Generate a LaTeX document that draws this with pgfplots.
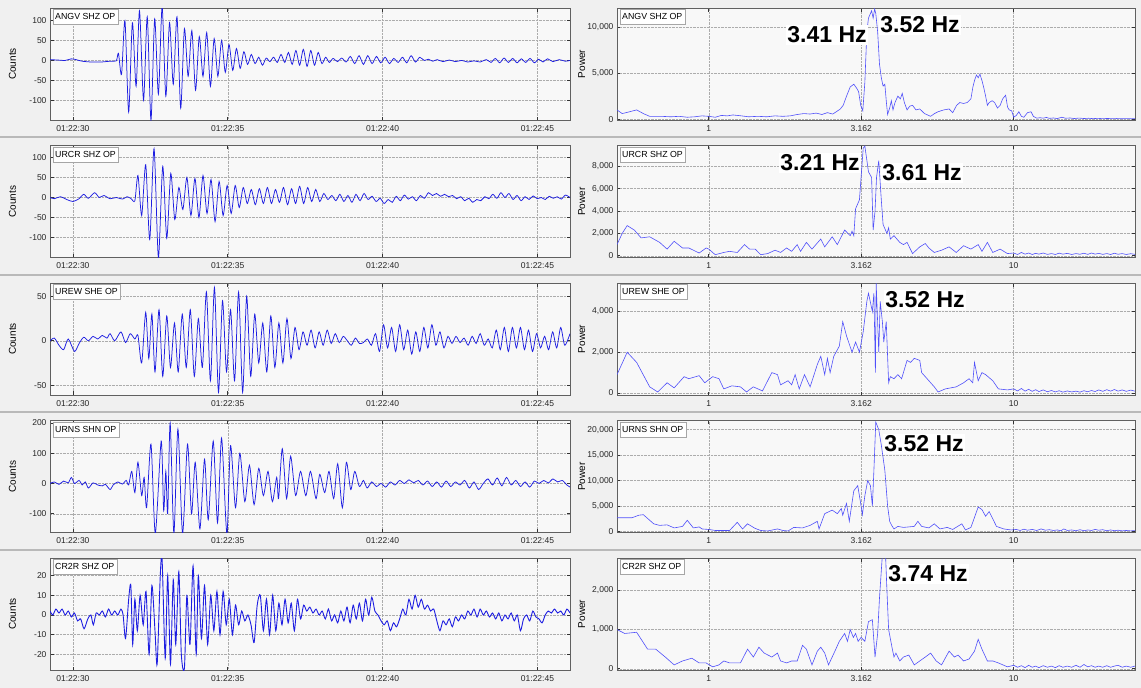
\documentclass[border=0pt]{standalone}
\usepackage{fontspec}
\setmainfont{Liberation Sans}
\usepackage{pgfplots}
\pgfplotsset{compat=1.18}
\definecolor{figbg}{RGB}{240,240,240}
\definecolor{plotbg}{RGB}{248,248,248}
\definecolor{wavec}{RGB}{30,30,225}
\definecolor{specc}{RGB}{80,80,250}
\pgfplotsset{
  panel/.style={scale only axis, height=112pt, anchor=north west,
    axis background/.style={fill=plotbg},
    axis line style={draw=gray!75!black, line width=0.5pt},
    grid=major, major grid style={densely dotted, draw=gray!65, line width=0.45pt},
    tick style={draw=black!80, line width=0.7pt}, major tick length=3.5pt,
    tick label style={font=\fontsize{8.5}{9}\selectfont, text=black!85},
    xticklabel style={yshift=-2pt},
    /pgf/number format/assume math mode=true,
    scaled y ticks=false,
    label style={font=\fontsize{8.5}{9}\selectfont},
  },
  wavepanel/.style={panel, width=520pt, xmin=29.26, xmax=46.05,
    xtick={30,35,40,45}, xticklabels={01:22:30,01:22:35,01:22:40,01:22:45},
    ylabel={Counts}, every axis y label/.style={at={(axis description cs:-0.072,0.5)}, rotate=90, anchor=center}},
  specpanel/.style={panel, width=518pt, xmin=0.5, xmax=25,
    xtick={1,3.162,10}, xticklabels={1,3.162,10},
    ylabel={Power}, every axis y label/.style={at={(axis description cs:-0.068,0.5)}, rotate=90, anchor=center}},
  wl/.style={color=wavec, line width=0.75pt, smooth, tension=0.45, mark=none},
  sl/.style={color=specc, line width=0.6pt, mark=none},
}
\tikzset{hz/.style={fill=white, inner sep=1.5pt, anchor=center, font=\fontsize{23}{23}\selectfont\bfseries},
  stn/.style={draw=gray!70, fill=white, anchor=north west, inner xsep=2.5pt, inner ysep=2pt, minimum height=15pt, font=\fontsize{8.8}{9}\selectfont, xshift=2.5pt, yshift=-1pt}}
\begin{document}
\begin{tikzpicture}
\fill[figbg] (0pt,0pt) rectangle (1141pt,-688pt);
\draw[gray!55, line width=2pt] (0pt,-137pt) -- (1141pt,-137pt);
\draw[gray!55, line width=2pt] (0pt,-274.5pt) -- (1141pt,-274.5pt);
\draw[gray!55, line width=2pt] (0pt,-412pt) -- (1141pt,-412pt);
\draw[gray!55, line width=2pt] (0pt,-549.5pt) -- (1141pt,-549.5pt);

% ---------- Row 1 ----------
\begin{axis}[wavepanel, at={(50pt,-8pt)}, ymin=-150, ymax=132, ytick={-100,-50,0,50,100}]
\addplot[wl] coordinates {(29.26,2)(29.5,1)(29.75,0)(29.95,4)(30.1,2)(30.3,-2)(30.6,-4)(30.9,-4)(31.2,-2)(31.4,-1)
(31.47,18)(31.57,-35)(31.68,100)(31.80,-130)(31.92,95)(32.04,-65)(32.15,125)(32.28,-100)(32.40,110)(32.52,-150)(32.64,105)(32.76,-85)(32.88,135)(33.00,-90)(33.12,95)(33.24,-60)(33.36,110)(33.48,-120)(33.60,80)(33.72,-40)(33.84,75)(33.96,-75)(34.08,60)(34.20,-40)(34.32,70)(34.44,-65)(34.56,55)(34.68,-40)(34.80,50)(34.92,-30)(35.04,40)(35.16,-25)(35.28,30)(35.40,-20)(35.52,22)(35.64,-10)(35.76,15)(35.88,-8)(36.00,8)(36.12,-12)(36.24,6)(36.36,-3)(36.48,8)(36.60,-5)(36.72,15)(36.84,-5)(36.96,20)(37.08,-10)(37.20,25)(37.32,-12)(37.44,28)(37.56,-15)(37.68,25)(37.80,-12)(37.92,20)(38.04,-8)(38.16,8)(38.28,-5)(38.40,5)(38.54,-3)(38.68,6)(38.82,-4)(38.96,10)(39.10,-8)(39.24,12)(39.38,-10)(39.52,12)(39.66,-8)(39.80,10)(39.94,-6)(40.08,8)(40.22,-8)(40.36,5)(40.50,-5)(40.64,8)(40.78,-6)(40.92,12)(41.06,-4)(41.20,8)(41.34,0)(41.48,3)(41.62,-2)(41.76,2)(41.95,-3)(42.15,1)(42.35,-3)(42.55,0)(42.75,-4)(42.95,-1)(43.15,-4)(43.35,2)(43.50,-5)(43.64,5)(43.78,-6)(43.92,6)(44.06,-5)(44.20,5)(44.34,-6)(44.48,4)(44.62,-5)(44.76,5)(44.90,-6)(45.04,3)(45.18,-4)(45.32,4)(45.50,-3)(45.70,2)(45.90,-2)(46.05,0)};
\node[stn] at (rel axis cs:0,1) {ANGV SHZ OP};
\end{axis}
\begin{semilogxaxis}[specpanel, at={(617pt,-8pt)}, ymin=-100, ymax=12100, ytick={0,5000,10000}]
\addplot[sl] coordinates {(0.50,1000)(0.52,600)(0.55,800)(0.58,1000)(0.61,600)(0.64,300)(0.70,300)(0.75,250)(0.80,300)(0.85,200)(0.90,250)(0.95,350)(1.00,300)(1.05,200)(1.10,400)(1.15,350)(1.20,450)(1.28,350)(1.35,250)(1.45,300)(1.55,250)(1.65,350)(1.75,300)(1.85,350)(1.95,500)(2.05,600)(2.15,550)(2.25,650)(2.35,500)(2.45,700)(2.55,550)(2.62,800)(2.70,1100)(2.76,1500)(2.83,2500)(2.91,3500)(2.99,3800)(3.05,3400)(3.10,3000)(3.15,1500)(3.20,900)(3.25,4000)(3.30,9500)(3.34,11000)(3.39,11500)(3.42,11800)(3.46,11000)(3.50,12000)(3.53,11500)(3.58,9500)(3.63,6000)(3.68,4500)(3.73,3600)(3.78,3800)(3.82,2000)(3.86,500)(3.92,1200)(3.97,2000)(4.02,1000)(4.08,1800)(4.17,2500)(4.25,2200)(4.31,2800)(4.38,1800)(4.47,1000)(4.56,1400)(4.66,1500)(4.78,1000)(4.92,1100)(5.10,600)(5.34,300)(5.50,600)(5.65,800)(5.90,1000)(6.14,1100)(6.31,700)(6.50,1500)(6.66,1800)(6.85,1700)(7.04,1800)(7.24,2200)(7.35,3500)(7.44,4200)(7.55,4800)(7.65,4500)(7.75,4900)(7.87,4200)(7.97,3500)(8.09,2500)(8.20,1500)(8.31,1800)(8.50,2000)(8.66,1800)(8.85,1200)(9.03,1500)(9.20,2200)(9.41,2600)(9.55,1300)(9.67,1000)(9.85,900)(10.0,200)(10.2,400)(10.4,800)(10.6,300)(10.8,200)(11.1,700)(11.4,800)(11.6,300)(11.9,100)(12.2,150)(12.5,100)(12.8,180)(13.1,80)(13.5,120)(13.9,60)(14.4,200)(14.8,90)(15.3,120)(15.8,60)(16.4,110)(17.0,60)(17.6,90)(18.2,50)(18.9,80)(19.6,40)(20.3,70)(21.0,40)(21.8,60)(22.6,30)(23.5,50)(24.3,30)(25.0,40)};
\node[stn] at (rel axis cs:0,1) {ANGV SHZ OP};
\end{semilogxaxis}

% ---------- Row 2 ----------
\begin{axis}[wavepanel, at={(50pt,-145.5pt)}, ymin=-150, ymax=130, ytick={-100,-50,0,50,100}]
\addplot[wl] coordinates {(29.26,0)(29.4,-3)(29.6,2)(29.8,-5)(30.0,-10)(30.2,-3)(30.35,8)(30.5,-2)(30.7,12)(30.85,0)(31.0,5)(31.2,-3)(31.4,0)(31.6,-4)(31.75,2)(31.88,-3)(32.00,-8)(32.10,55)(32.22,-45)(32.35,82)(32.48,-105)(32.62,122)(32.76,-150)(32.90,78)(33.03,-102)(33.16,60)(33.29,-55)(33.42,25)(33.55,-30)(33.68,50)(33.81,-45)(33.94,48)(34.07,-50)(34.20,55)(34.33,-40)(34.46,45)(34.59,-60)(34.72,40)(34.85,-45)(34.98,30)(35.11,-40)(35.24,30)(35.37,-25)(35.50,25)(35.63,-15)(35.76,20)(35.89,-18)(36.02,22)(36.15,-15)(36.28,25)(36.41,-15)(36.54,20)(36.67,-12)(36.80,25)(36.93,-18)(37.06,22)(37.19,-15)(37.32,28)(37.45,-15)(37.58,25)(37.71,-10)(37.84,20)(37.97,-10)(38.10,10)(38.23,-5)(38.36,5)(38.49,-8)(38.62,8)(38.75,-10)(38.88,5)(39.01,-12)(39.14,8)(39.27,-8)(39.40,10)(39.53,-5)(39.66,3)(39.79,-10)(39.92,-2)(40.05,-15)(40.18,-5)(40.31,-12)(40.44,3)(40.57,-8)(40.70,6)(40.83,-4)(40.96,2)(41.09,-8)(41.22,5)(41.35,-2)(41.48,12)(41.61,5)(41.74,10)(41.87,3)(42.00,8)(42.13,2)(42.26,5)(42.39,-3)(42.52,2)(42.65,-8)(42.78,-2)(42.91,-12)(43.04,-5)(43.17,-8)(43.30,2)(43.43,-3)(43.56,8)(43.69,-2)(43.82,12)(43.95,0)(44.08,10)(44.21,-5)(44.34,5)(44.47,-8)(44.60,2)(44.73,-5)(44.86,4)(44.99,-3)(45.12,0)(45.25,-5)(45.38,3)(45.51,-2)(45.64,2)(45.77,-4)(45.90,6)(46.05,0)};
\node[stn] at (rel axis cs:0,1) {URCR SHZ OP};
\end{axis}
\begin{semilogxaxis}[specpanel, at={(617pt,-145.5pt)}, ymin=-150, ymax=9850, ytick={0,2000,4000,6000,8000}]
\addplot[sl] coordinates {(0.50,1000)(0.52,2000)(0.54,2700)(0.57,2300)(0.60,1600)(0.64,1700)(0.69,1200)(0.73,600)(0.77,1300)(0.82,700)(0.86,700)(0.93,250)(0.98,700)(1.00,600)(1.05,100)(1.12,300)(1.17,400)(1.24,300)(1.31,1000)(1.36,600)(1.42,600)(1.48,100)(1.56,200)(1.65,500)(1.72,300)(1.80,700)(1.87,400)(1.95,1000)(2.00,400)(2.09,1200)(2.18,600)(2.33,1500)(2.40,800)(2.54,1700)(2.64,1000)(2.79,2300)(2.91,1800)(2.95,2200)(2.99,1800)(3.03,4200)(3.12,5000)(3.21,9600)(3.25,9800)(3.34,7500)(3.42,7000)(3.46,2300)(3.51,4000)(3.55,7000)(3.61,8500)(3.68,5000)(3.73,2800)(3.84,2000)(3.89,2500)(3.94,1500)(4.05,1800)(4.23,1200)(4.35,1000)(4.47,1200)(4.66,200)(4.92,800)(5.13,1100)(5.27,700)(5.49,300)(5.80,500)(6.14,800)(6.48,300)(6.85,900)(7.24,600)(7.65,1000)(7.87,400)(8.20,1200)(8.54,300)(9.03,600)(9.54,200)(10.0,250)(10.3,120)(10.6,300)(10.9,150)(11.2,250)(11.5,120)(11.8,220)(12.1,150)(12.5,250)(12.9,130)(13.3,200)(13.7,120)(14.1,240)(14.5,150)(15.0,220)(15.5,120)(16.0,200)(16.5,140)(17.0,230)(17.5,130)(18.0,250)(18.5,150)(19.0,220)(19.6,130)(20.2,200)(20.8,120)(21.4,230)(22.0,140)(22.7,200)(23.4,120)(24.2,190)(25.0,130)};
\node[stn] at (rel axis cs:0,1) {URCR SHZ OP};
\end{semilogxaxis}

% ---------- Row 3 ----------
\begin{axis}[wavepanel, at={(50pt,-283pt)}, ymin=-61, ymax=65, ytick={-50,0,50}]
\addplot[wl] coordinates {(29.26,0)(29.40,3)(29.55,-5)(29.70,-10)(29.85,2)(30.05,-12)(30.20,-3)(30.35,4)(30.50,0)(30.65,5)(30.80,2)(30.95,6)(31.10,3)(31.20,8)(31.35,0)(31.55,10)(31.70,-2)(31.85,8)(32.00,2)(32.10,6)(32.22,-25)(32.35,32)(32.45,-20)(32.55,30)(32.65,-35)(32.78,35)(32.90,-40)(33.03,28)(33.15,-30)(33.28,20)(33.40,-35)(33.53,30)(33.66,-30)(33.79,35)(33.92,-40)(34.05,25)(34.18,-30)(34.31,55)(34.44,-45)(34.57,60)(34.70,-58)(34.83,45)(34.96,-35)(35.09,35)(35.22,-45)(35.35,55)(35.48,-58)(35.61,50)(35.74,-40)(35.87,30)(36.00,-25)(36.13,20)(36.26,-35)(36.39,28)(36.52,-30)(36.65,20)(36.78,-25)(36.91,25)(37.04,-20)(37.17,15)(37.30,-10)(37.43,10)(37.56,-5)(37.69,12)(37.82,-8)(37.95,10)(38.08,-5)(38.21,12)(38.34,-3)(38.47,8)(38.60,-2)(38.73,5)(38.86,0)(38.99,-5)(39.12,3)(39.25,-3)(39.38,-2)(39.51,2)(39.64,-5)(39.77,8)(39.90,-12)(40.03,18)(40.16,-8)(40.29,15)(40.42,-12)(40.55,18)(40.68,-10)(40.81,12)(40.94,-15)(41.07,10)(41.20,-12)(41.33,15)(41.46,-8)(41.59,18)(41.72,-5)(41.85,10)(41.98,-8)(42.11,5)(42.24,-3)(42.37,5)(42.50,-2)(42.63,3)(42.76,-5)(42.89,5)(43.02,-3)(43.15,8)(43.28,-5)(43.41,2)(43.54,-8)(43.67,12)(43.80,-10)(43.93,15)(44.06,-12)(44.19,15)(44.32,-8)(44.45,15)(44.58,-10)(44.71,12)(44.84,-12)(44.97,8)(45.10,-8)(45.23,5)(45.36,-10)(45.49,10)(45.62,-8)(45.75,15)(45.88,-5)(46.05,8)};
\node[stn] at (rel axis cs:0,1) {UREW SHE OP};
\end{axis}
\begin{semilogxaxis}[specpanel, at={(617pt,-283pt)}, ymin=-100, ymax=5400, ytick={0,2000,4000}]
\addplot[sl] coordinates {(0.50,900)(0.54,2000)(0.58,1500)(0.64,300)(0.68,50)(0.73,500)(0.77,250)(0.83,800)(0.86,700)(0.93,850)(0.97,500)(1.03,800)(1.08,700)(1.12,200)(1.19,350)(1.27,300)(1.33,50)(1.40,300)(1.50,100)(1.61,1000)(1.68,900)(1.72,400)(1.82,600)(1.87,400)(1.92,900)(1.98,200)(2.06,900)(2.15,300)(2.27,1400)(2.33,1800)(2.40,900)(2.45,1700)(2.50,1000)(2.57,1800)(2.68,2300)(2.75,3500)(2.83,2800)(2.95,2000)(3.03,2500)(3.12,2000)(3.21,3000)(3.30,4500)(3.34,4900)(3.44,4000)(3.48,4900)(3.52,1000)(3.54,5400)(3.61,2000)(3.65,4500)(3.71,3500)(3.75,2500)(3.82,3500)(3.89,500)(3.94,800)(4.05,700)(4.17,900)(4.29,700)(4.47,1600)(4.59,1500)(4.72,1700)(4.92,1600)(4.99,1000)(5.20,700)(5.49,300)(5.65,50)(5.97,200)(6.48,300)(6.85,500)(7.14,700)(7.34,500)(7.44,1500)(7.65,600)(7.87,1000)(8.09,900)(8.54,600)(8.91,200)(9.54,150)(10.0,200)(10.3,100)(10.6,220)(10.9,90)(11.2,180)(11.5,80)(11.8,160)(12.1,70)(12.5,150)(12.9,60)(13.3,120)(13.7,50)(14.1,110)(14.5,40)(15.0,100)(15.5,50)(16.0,90)(16.5,40)(17.0,110)(17.5,60)(18.0,120)(18.5,70)(19.0,150)(19.6,80)(20.2,160)(20.8,90)(21.4,170)(22.0,90)(22.7,150)(23.4,80)(24.2,140)(25.0,90)};
\node[stn] at (rel axis cs:0,1) {UREW SHE OP};
\end{semilogxaxis}

% ---------- Row 4 ----------
\begin{axis}[wavepanel, at={(50pt,-420.5pt)}, ymin=-162, ymax=208, ytick={-100,0,100,200}]
\addplot[wl] coordinates {(29.26,0)(29.40,5)(29.55,-3)(29.70,8)(29.85,2)(29.95,20)(30.05,0)(30.20,10)(30.30,-5)(30.40,5)(30.50,-15)(30.65,2)(30.80,-5)(30.95,-8)(31.05,-3)(31.20,-20)(31.30,-5)(31.45,5)(31.60,-2)(31.72,10)(31.80,-5)(31.90,40)(32.00,-30)(32.10,70)(32.22,-40)(32.30,20)(32.38,-80)(32.52,130)(32.66,-165)(32.85,140)(32.93,-90)(33.00,40)(33.06,-100)(33.14,200)(33.26,-165)(33.39,180)(33.54,-165)(33.70,130)(33.83,-100)(33.95,70)(34.10,-150)(34.25,80)(34.37,-120)(34.53,140)(34.67,-130)(34.80,150)(34.97,-165)(35.09,125)(35.25,-80)(35.39,100)(35.55,-60)(35.70,60)(35.85,-70)(36.00,50)(36.15,-40)(36.30,40)(36.44,-60)(36.58,20)(36.64,-50)(36.76,115)(36.90,-50)(37.03,90)(37.19,-40)(37.35,40)(37.52,-40)(37.67,40)(37.85,-50)(37.97,30)(38.13,-30)(38.27,40)(38.42,-50)(38.55,65)(38.70,-80)(38.83,70)(38.97,-20)(39.10,40)(39.25,-10)(39.38,10)(39.50,-15)(39.65,5)(39.80,-10)(39.95,0)(40.10,-12)(40.25,5)(40.40,-5)(40.55,10)(40.70,0)(40.85,12)(41.00,2)(41.15,10)(41.30,-5)(41.45,8)(41.60,-10)(41.75,5)(41.90,-12)(42.05,8)(42.20,-10)(42.35,5)(42.50,-5)(42.65,10)(42.80,-15)(42.95,5)(43.10,-20)(43.25,0)(43.40,15)(43.55,-5)(43.70,18)(43.85,-8)(44.00,20)(44.15,-5)(44.30,10)(44.45,-10)(44.60,5)(44.75,-12)(44.90,8)(45.05,0)(45.20,10)(45.35,2)(45.50,15)(45.65,5)(45.80,10)(45.95,-5)(46.05,-12)};
\node[stn] at (rel axis cs:0,1) {URNS SHN OP};
\end{axis}
\begin{semilogxaxis}[specpanel, at={(617pt,-420.5pt)}, ymin=-200, ymax=21800, ytick={0,5000,10000,15000,20000}]
\addplot[sl] coordinates {(0.50,2700)(0.56,2700)(0.59,3200)(0.61,3300)(0.66,1500)(0.69,1200)(0.73,1300)(0.77,700)(0.82,1000)(0.85,2200)(0.89,700)(0.93,900)(0.95,500)(1.00,400)(1.05,200)(1.11,200)(1.17,200)(1.24,1800)(1.29,500)(1.34,1500)(1.42,600)(1.48,200)(1.56,100)(1.68,500)(1.75,200)(1.82,100)(1.90,800)(2.03,700)(2.15,1200)(2.27,2000)(2.30,500)(2.40,3500)(2.54,4200)(2.64,3500)(2.72,4500)(2.75,3200)(2.83,5500)(2.89,2000)(2.99,8000)(3.08,9000)(3.14,6000)(3.19,3300)(3.25,7000)(3.32,10000)(3.39,9000)(3.44,5000)(3.48,12000)(3.53,21500)(3.61,20000)(3.68,17000)(3.78,12000)(3.86,5000)(3.92,2000)(3.98,1200)(4.05,500)(4.17,1000)(4.35,800)(4.53,900)(4.72,1000)(4.85,2000)(4.99,1000)(5.27,700)(5.49,1500)(5.73,500)(6.05,800)(6.31,400)(6.76,1500)(6.95,300)(7.24,800)(7.65,4800)(7.87,4300)(8.09,3000)(8.31,3900)(8.54,2500)(8.78,1000)(9.28,500)(9.81,300)(10.2,400)(10.5,200)(10.8,450)(11.1,250)(11.5,400)(11.9,200)(12.3,500)(12.7,250)(13.1,350)(13.5,200)(13.9,300)(14.3,150)(14.6,500)(15.0,200)(15.5,300)(16.0,150)(16.5,350)(17.0,150)(17.5,300)(18.0,200)(18.5,400)(19.0,250)(19.6,350)(20.2,150)(20.8,300)(21.4,150)(22.0,250)(22.7,120)(23.4,200)(24.2,120)(25.0,180)};
\node[stn] at (rel axis cs:0,1) {URNS SHN OP};
\end{semilogxaxis}

% ---------- Row 5 ----------
\begin{axis}[wavepanel, at={(50pt,-558pt)}, ymin=-28, ymax=29, ytick={-20,-10,0,10,20}]
\addplot[wl, line width=0.9pt] coordinates {(29.26,2)(29.35,0)(29.45,3)(29.55,1)(29.65,3)(29.75,0)(29.85,2)(29.95,-1)(30.05,1)(30.15,-3)(30.25,-2)(30.36,-7)(30.48,-2)(30.58,0)(30.66,-5)(30.75,1)(30.85,0)(30.95,2)(31.05,-1)(31.15,3)(31.25,0)(31.35,2)(31.45,0)(31.55,3)(31.62,0)(31.70,-12)(31.80,8)(31.87,15)(31.93,-15)(32.00,8)(32.08,-8)(32.17,10)(32.27,-5)(32.36,12)(32.46,-20)(32.55,15)(32.65,-8)(32.72,-25)(32.82,20)(32.88,28)(32.98,-22)(33.06,20)(33.15,-25)(33.24,18)(33.32,-15)(33.42,22)(33.50,-20)(33.60,-27)(33.68,10)(33.78,-15)(33.88,25)(33.98,-20)(34.05,20)(34.15,-12)(34.25,15)(34.35,-15)(34.45,10)(34.55,-8)(34.65,12)(34.75,-10)(34.85,12)(34.95,-5)(35.05,8)(35.15,-10)(35.25,5)(35.35,-5)(35.45,2)(35.55,-3)(35.65,0)(35.75,-5)(35.85,-14)(35.95,5)(36.05,10)(36.15,-8)(36.25,8)(36.35,-10)(36.45,10)(36.55,-8)(36.65,6)(36.75,-5)(36.85,8)(36.95,-4)(37.05,6)(37.15,-8)(37.25,8)(37.35,-2)(37.45,5)(37.55,2)(37.65,4)(37.75,1)(37.85,3)(37.95,0)(38.05,2)(38.15,-2)(38.25,3)(38.35,-3)(38.45,0)(38.55,-4)(38.65,2)(38.75,-3)(38.85,4)(38.95,-4)(39.05,5)(39.15,-2)(39.25,6)(39.35,-3)(39.45,8)(39.55,0)(39.65,9)(39.75,2)(39.85,0)(39.95,-3)(40.05,-5)(40.15,-3)(40.25,-8)(40.35,-4)(40.45,-6)(40.55,-2)(40.65,3)(40.75,0)(40.85,8)(40.95,3)(41.05,10)(41.15,4)(41.25,8)(41.35,3)(41.45,5)(41.55,2)(41.65,3)(41.75,-3)(41.85,-8)(41.95,-3)(42.05,-5)(42.15,-2)(42.25,-6)(42.35,-1)(42.45,-3)(42.55,0)(42.65,-2)(42.75,2)(42.85,0)(42.95,3)(43.05,-1)(43.15,3)(43.25,0)(43.35,2)(43.45,-1)(43.55,1)(43.65,-2)(43.75,1)(43.85,-3)(43.95,0)(44.05,-2)(44.15,1)(44.25,-3)(44.35,0)(44.45,-8)(44.55,-2)(44.65,0)(44.75,-3)(44.85,2)(44.95,-1)(45.05,-2)(45.15,-4)(45.25,0)(45.35,2)(45.45,1)(45.55,3)(45.65,1)(45.75,2)(45.85,0)(45.95,3)(46.05,1)};
\node[stn] at (rel axis cs:0,1) {CR2R SHZ OP};
\end{axis}
\begin{semilogxaxis}[specpanel, at={(617pt,-558pt)}, ymin=-30, ymax=2820, ytick={0,1000,2000}]
\addplot[sl] coordinates {(0.50,1000)(0.53,900)(0.58,930)(0.63,500)(0.67,500)(0.72,300)(0.77,100)(0.82,200)(0.88,270)(0.93,150)(0.98,150)(1.03,50)(1.08,100)(1.12,200)(1.17,150)(1.27,150)(1.34,500)(1.40,300)(1.46,550)(1.52,400)(1.61,300)(1.68,400)(1.72,200)(1.80,150)(1.87,200)(1.95,200)(2.03,600)(2.09,500)(2.18,100)(2.27,450)(2.33,550)(2.40,400)(2.47,100)(2.61,500)(2.68,700)(2.79,900)(2.85,700)(2.91,1000)(2.98,800)(3.03,900)(3.09,700)(3.16,800)(3.25,700)(3.34,1200)(3.44,1250)(3.51,300)(3.58,900)(3.63,1800)(3.71,2900)(3.80,2900)(3.84,2000)(3.89,1000)(4.00,500)(4.05,300)(4.11,400)(4.23,200)(4.35,300)(4.53,350)(4.72,100)(4.92,200)(5.13,300)(5.34,400)(5.57,200)(5.80,100)(6.14,450)(6.39,300)(6.57,350)(6.85,200)(7.14,250)(7.44,450)(7.65,750)(7.87,500)(8.20,200)(8.54,200)(8.91,150)(9.54,50)(10.0,90)(10.3,40)(10.6,80)(10.9,30)(11.2,90)(11.5,40)(11.8,70)(12.1,30)(12.5,80)(12.9,40)(13.3,70)(13.7,30)(14.1,80)(14.5,40)(15.0,70)(15.5,40)(16.0,90)(16.5,40)(17.0,110)(17.5,50)(18.0,80)(18.5,40)(19.0,70)(19.6,40)(20.2,80)(20.8,40)(21.4,70)(22.0,90)(22.7,40)(23.4,70)(24.2,40)(25.0,70)};
\node[stn] at (rel axis cs:0,1) {CR2R SHZ OP};
\end{semilogxaxis}

% ---------- frequency annotations ----------
\node[hz] at (827pt,-35pt) {3.41 Hz};
\node[hz] at (920pt,-25pt) {3.52 Hz};
\node[hz] at (820pt,-163pt) {3.21 Hz};
\node[hz] at (922pt,-173pt) {3.61 Hz};
\node[hz] at (925pt,-300pt) {3.52 Hz};
\node[hz] at (924pt,-444pt) {3.52 Hz};
\node[hz] at (928pt,-574pt) {3.74 Hz};
\pgfresetboundingbox
\useasboundingbox (0pt,0pt) rectangle (1141pt,-688pt);
\end{tikzpicture}
\end{document}
